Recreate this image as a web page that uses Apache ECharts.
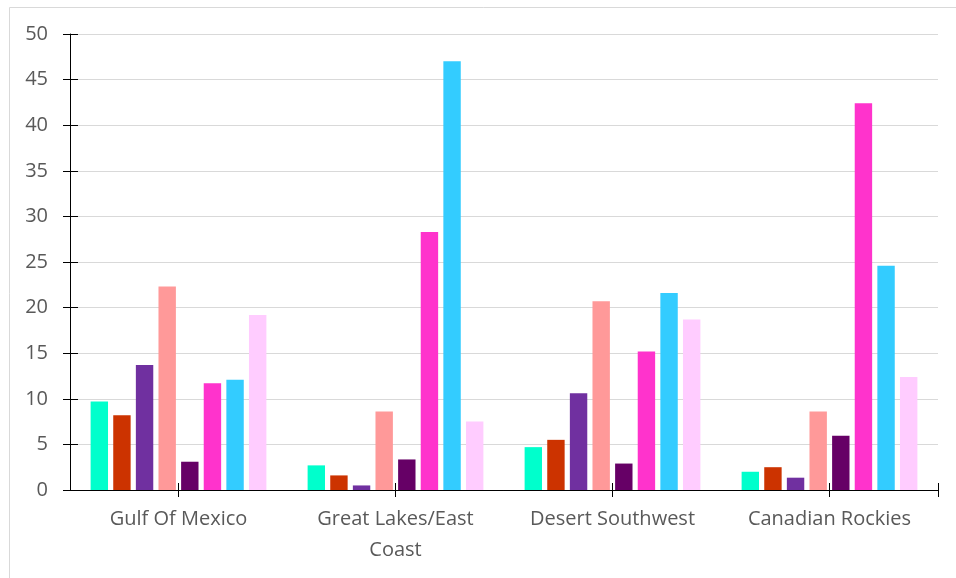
<!DOCTYPE html>
<html>
<head>
<meta charset="utf-8">
<script src="https://cdn.jsdelivr.net/npm/echarts@6/dist/echarts.min.js"></script>
<style>
html,body{margin:0;padding:0;background:#fff;}
#chart{width:956px;height:578px;}
</style>
</head>
<body>
<div id="chart"></div>
<script>
var categories = ['Gulf Of Mexico', 'Great Lakes/East\nCoast', 'Desert Southwest', 'Canadian Rockies'];
var yTicks = [0, 5, 10, 15, 20, 25, 30, 35, 40, 45, 50];

var series1 = [9.7, 2.7, 4.7, 2.0];
var series2 = [8.2, 1.6, 5.5, 2.5];
var series3 = [13.7, 0.5, 10.6, 1.35];
var series4 = [22.3, 8.6, 20.7, 8.6];
var series5 = [3.1, 3.35, 2.9, 5.95];
var series6 = [11.7, 28.3, 15.2, 42.4];
var series7 = [12.1, 47.0, 21.6, 24.6];
var series8 = [19.2, 7.5, 18.7, 12.4];

var seriesNames = ['Series 1','Series 2','Series 3','Series 4','Series 5','Series 6','Series 7','Series 8'];
var seriesData = [series1, series2, series3, series4, series5, series6, series7, series8];
var colors = ['#00FFCC', '#CC3300', '#7030A0', '#FF9999', '#660066', '#FF33CC', '#33CCFF', '#FFCCFF'];

var FONT = 'Open Sans';
var chart = echarts.init(document.getElementById('chart'), null, {renderer: 'canvas'});

var tickAxisBase = {
  type: 'value', min: 0, max: 8, gridIndex: 0, position: 'bottom',
  axisLine: {show: false}, axisLabel: {show: false}, splitLine: {show: false}
};

var option = {
  animation: false,
  backgroundColor: '#ffffff',
  color: colors,
  graphic: [{
    type: 'rect', left: 7, top: 5, silent: true,
    shape: {width: 1000, height: 1000},
    style: {fill: 'none', stroke: '#d9d9d9', lineWidth: 1}
  }],
  grid: {left: 70, right: 18, top: 34, bottom: 88},
  xAxis: [
    {
      type: 'category', data: categories, boundaryGap: true,
      axisLine: {show: true, lineStyle: {color: '#000', width: 1}},
      axisTick: {show: false},
      axisLabel: {color: '#595959', fontFamily: FONT, fontSize: 20, lineHeight: 31, margin: 14, interval: 0},
      splitLine: {show: false}
    },
    Object.assign({}, tickAxisBase, {
      axisTick: {show: true, inside: false, length: 7, customValues: [1, 3, 5, 7, 8], lineStyle: {color: '#000', width: 1}}
    }),
    Object.assign({}, tickAxisBase, {
      axisTick: {show: true, inside: true, length: 7, customValues: [1, 3, 5, 7, 8], lineStyle: {color: '#000', width: 1}}
    })
  ],
  yAxis: [
    {
      type: 'value', min: yTicks[0], max: yTicks[yTicks.length - 1], interval: 5,
      axisLine: {show: true, lineStyle: {color: '#000', width: 1}},
      axisTick: {show: true, inside: false, length: 7, lineStyle: {color: '#000', width: 1}},
      axisLabel: {color: '#595959', fontFamily: FONT, fontSize: 20, margin: 22},
      splitLine: {show: true, lineStyle: {color: '#d9d9d9', width: 1}}
    },
    {
      type: 'value', min: yTicks[0], max: yTicks[yTicks.length - 1], interval: 5, position: 'left',
      axisLine: {show: false},
      axisTick: {show: true, inside: true, length: 8, lineStyle: {color: '#000', width: 1}},
      axisLabel: {show: false},
      splitLine: {show: false}
    }
  ],
  series: seriesData.map(function (d, i) {
    return {
      name: seriesNames[i], type: 'bar', data: d,
      xAxisIndex: 0, yAxisIndex: 0,
      barGap: '30%', barCategoryGap: '19%',
      itemStyle: {color: colors[i]}
    };
  })
};
chart.setOption(option);
</script>
</body>
</html>
